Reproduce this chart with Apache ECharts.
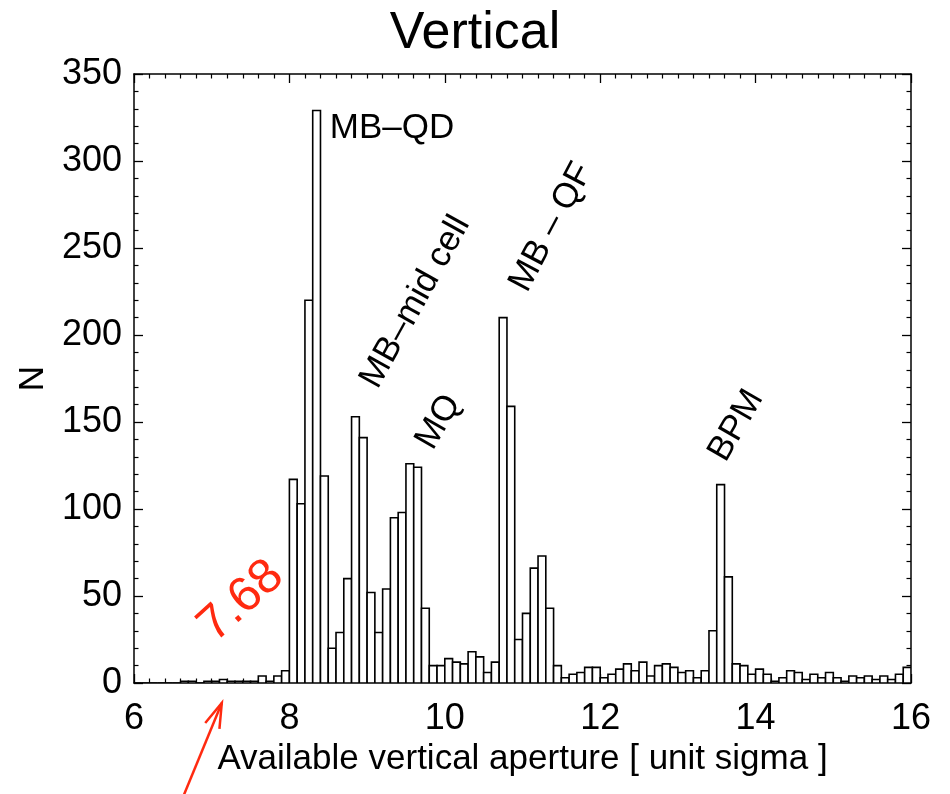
<!DOCTYPE html>
<html>
<head>
<meta charset="utf-8">
<script src="https://cdn.jsdelivr.net/npm/echarts@6/dist/echarts.min.js"></script>
<style>
html,body{margin:0;padding:0;background:#fff;}
#chart{width:950px;height:794px;}
</style>
</head>
<body>
<div id="chart"></div>
<script>
// Histogram bins (left edges, width 0.1) and counts
const binLeft = [
  6.0,6.1,6.2,6.3,6.4,6.5,6.6,6.7,6.8,6.9,
  7.0,7.1,7.2,7.3,7.4,7.5,7.6,7.7,7.8,7.9,
  8.0,8.1,8.2,8.3,8.4,8.5,8.6,8.7,8.8,8.9,
  9.0,9.1,9.2,9.3,9.4,9.5,9.6,9.7,9.8,9.9,
  10.0,10.1,10.2,10.3,10.4,10.5,10.6,10.7,10.8,10.9,
  11.0,11.1,11.2,11.3,11.4,11.5,11.6,11.7,11.8,11.9,
  12.0,12.1,12.2,12.3,12.4,12.5,12.6,12.7,12.8,12.9,
  13.0,13.1,13.2,13.3,13.4,13.5,13.6,13.7,13.8,13.9,
  14.0,14.1,14.2,14.3,14.4,14.5,14.6,14.7,14.8,14.9,
  15.0,15.1,15.2,15.3,15.4,15.5,15.6,15.7,15.8,15.9
];
const binWidth = 0.1;
const counts = [
  0,0,0,0,0,0,1,1,0,1,
  1,2,1,1,1,1,4,1,4,7,
  117,103,220,329,119,20,29,60,153,141,
  52,29,54,95,98,126,124,43,10,10,
  14,12,11,18,15,6,12,210,159,25,
  40,66,73,43,10,3,5,6,9,9,
  3,5,8,11,7,12,4,10,11,9,
  6,7,3,7,30,114,61,11,10,5,
  8,5,1,3,7,6,2,5,3,6,
  3,1,4,3,4,2,4,2,5,9
];
const xTicks = [6, 8, 10, 12, 14, 16];
const yTicks = [0, 50, 100, 150, 200, 250, 300, 350];

// Annotations: [text, x, y, rotationDeg, align]
const annotations = [
  ['MB\u2013QD', 8.52, 319, 0, 'left'],
  ['MB\u2013mid cell', 9.62, 219, 61, 'center'],
  ['MQ', 9.92, 150, 60, 'center'],
  ['MB \u2013 QF', 11.37, 262, 62, 'center'],
  ['BPM', 13.75, 148, 60, 'center']
];
const redLabel = ['7.68', 7.38, 47, 42];
const arrowTipX = 7.13;

const FONT = "'Liberation Sans', Arial, Helvetica, sans-serif";
const chart = echarts.init(document.getElementById('chart'), null, {renderer: 'canvas'});

const data = binLeft.map((b, i) => [b, b + binWidth, counts[i]]);

function axisCommon(show, margin) {
  return {
    axisLine: {show: true, onZero: false, lineStyle: {color: '#000', width: 1.5}},
    axisTick: {show: true, inside: true, length: 9, lineStyle: {color: '#000', width: 1.3}},
    splitLine: {show: false},
    minorSplitLine: {show: false},
    axisLabel: {show: show, color: '#000', fontSize: 36, fontFamily: FONT, margin: margin}
  };
}
function minor(n) {
  return {show: true, splitNumber: n, length: 4.5, lineStyle: {color: '#000', width: 1.2}};
}

const option = {
  animation: false,
  backgroundColor: '#fff',
  title: {
    text: 'Vertical', left: 'center', top: 3,
    textStyle: {fontSize: 52, fontWeight: 'normal', color: '#000', fontFamily: FONT}
  },
  grid: {left: 134, top: 74, right: 39, bottom: 111, show: false},
  xAxis: [
    Object.assign(axisCommon(true, 18), {
      type: 'value', min: xTicks[0], max: xTicks[xTicks.length - 1], interval: 2, position: 'bottom',
      name: 'Available vertical aperture [ unit sigma ]', nameLocation: 'middle', nameGap: 58,
      nameTextStyle: {fontSize: 35, color: '#000', fontFamily: FONT},
      minorTick: minor(10)
    }),
    Object.assign(axisCommon(false, 8), {
      type: 'value', min: xTicks[0], max: xTicks[xTicks.length - 1], interval: 2, position: 'top',
      minorTick: minor(10)
    })
  ],
  yAxis: [
    Object.assign(axisCommon(true, 12), {
      type: 'value', min: yTicks[0], max: yTicks[yTicks.length - 1], interval: 50, position: 'left',
      name: 'N', nameLocation: 'middle', nameGap: 82, nameRotate: 90,
      nameTextStyle: {fontSize: 35, color: '#000', fontFamily: FONT},
      minorTick: minor(5)
    }),
    Object.assign(axisCommon(false, 8), {
      type: 'value', min: yTicks[0], max: yTicks[yTicks.length - 1], interval: 50, position: 'right',
      minorTick: minor(5)
    })
  ],
  series: [{
    type: 'custom',
    xAxisIndex: 0, yAxisIndex: 0,
    data: data,
    encode: {x: [0, 1], y: 2},
    clip: true,
    renderItem: function (params, api) {
      const p0 = api.coord([api.value(0), api.value(2)]);
      const p1 = api.coord([api.value(1), 0]);
      return {
        type: 'rect',
        shape: {x: p0[0], y: p0[1], width: p1[0] - p0[0], height: p1[1] - p0[1]},
        style: {fill: '#fff', stroke: '#000', lineWidth: 1.6}
      };
    }
  }]
};
chart.setOption(option);

// Annotations positioned in data coordinates
const graphics = [];
annotations.forEach(a => {
  const p = chart.convertToPixel({xAxisIndex: 0, yAxisIndex: 0}, [a[1], a[2]]);
  graphics.push({
    type: 'text', x: p[0], y: p[1], rotation: a[3] * Math.PI / 180,
    style: {text: a[0], fontSize: 35, fontFamily: FONT, fill: '#000',
      textAlign: a[4], textVerticalAlign: 'middle'}
  });
});
const rp = chart.convertToPixel({xAxisIndex: 0, yAxisIndex: 0}, [redLabel[1], redLabel[2]]);
graphics.push({
  type: 'text', x: rp[0], y: rp[1], rotation: redLabel[3] * Math.PI / 180,
  style: {text: redLabel[0], fontSize: 49, fontFamily: FONT, fill: '#ff2a10',
    textAlign: 'center', textVerticalAlign: 'middle'}
});
// red arrow pointing to the axis
const tip0 = chart.convertToPixel({xAxisIndex: 0, yAxisIndex: 0}, [arrowTipX, 0]);
const tip = [tip0[0], tip0[1] + 20];
const dir = [-40, 97];
const dl = Math.hypot(dir[0], dir[1]);
const u = [dir[0] / dl, dir[1] / dl];
const tail = [tip[0] + u[0] * 110, tip[1] + u[1] * 110];
function rot(v, a) { const c = Math.cos(a), s = Math.sin(a); return [v[0] * c - v[1] * s, v[0] * s + v[1] * c]; }
const w1 = rot(u, 0.3), w2 = rot(u, -0.3);
const hl = 26;
graphics.push({type: 'polyline', shape: {points: [tip, tail]}, style: {stroke: '#ff2a10', lineWidth: 2.5, fill: null}});
graphics.push({type: 'polyline', shape: {points: [[tip[0] + w1[0] * hl, tip[1] + w1[1] * hl], tip, [tip[0] + w2[0] * hl, tip[1] + w2[1] * hl]]},
  style: {stroke: '#ff2a10', lineWidth: 2.5, fill: null}});
chart.setOption({graphic: graphics});
</script>
</body>
</html>
